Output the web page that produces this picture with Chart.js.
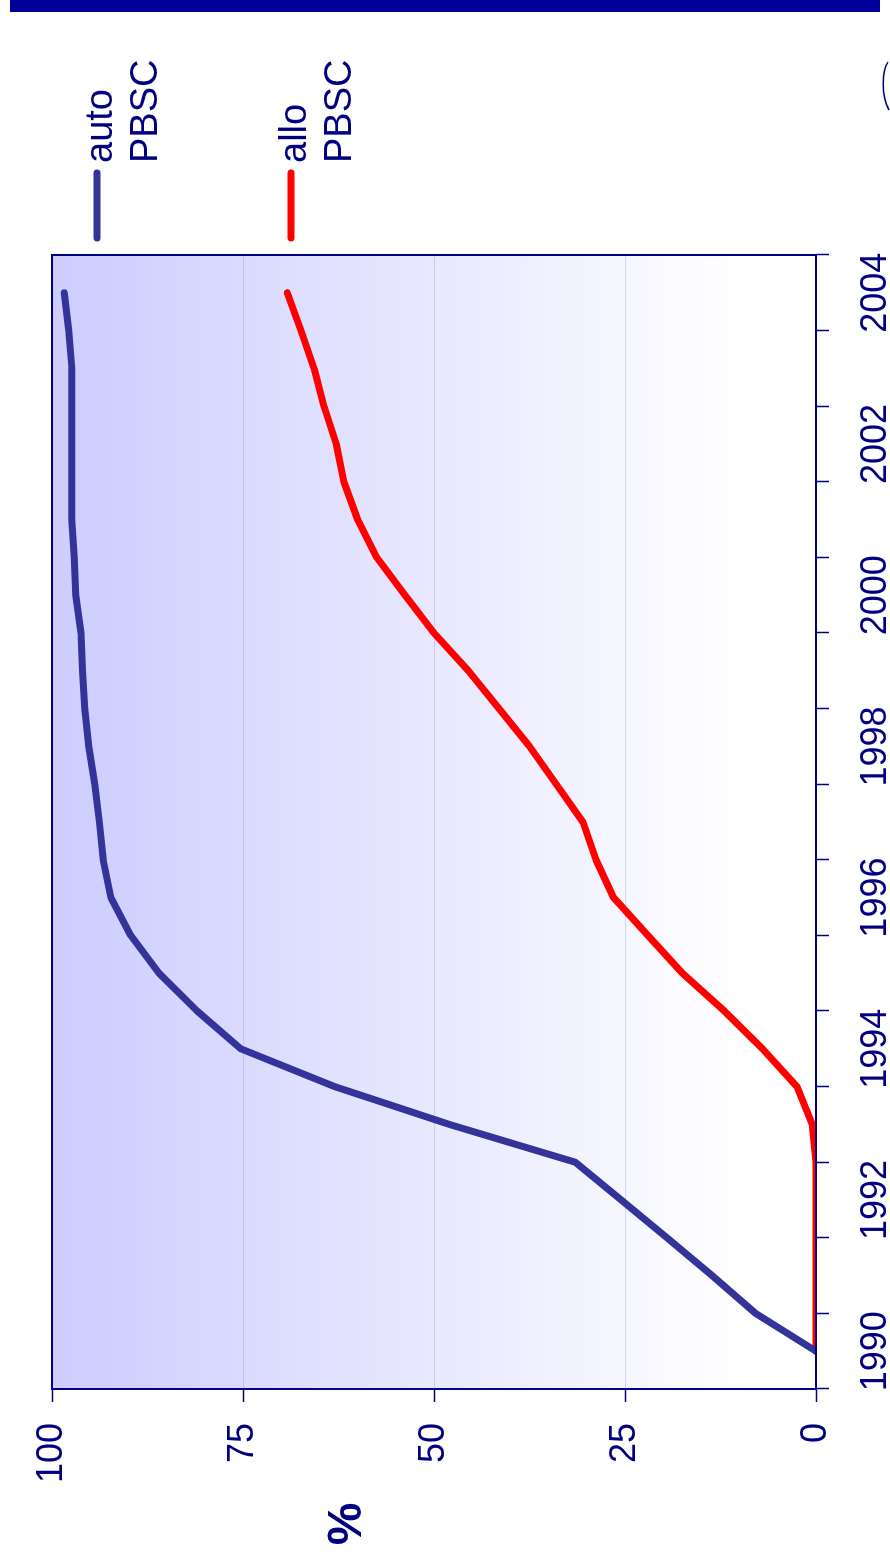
<!DOCTYPE html>
<html>
<head>
<meta charset="utf-8">
<title>auto / allo PBSC</title>
<script src="https://cdn.jsdelivr.net/npm/chart.js@4.4.1/dist/chart.umd.min.js"></script>
<style>
  html, body { margin: 0; padding: 0; background: #fff; }
  body { width: 890px; height: 1554px; overflow: hidden; position: relative; }
  /* the chart is drawn landscape and turned a quarter to the left */
  #wrap { position: absolute; left: 0; top: 0; width: 1554px; height: 890px;
          transform-origin: 0 0; transform: translateY(1554px) rotate(-90deg); }
</style>
</head>
<body>
<div id="wrap"><canvas id="pbscChart" width="1554" height="890"></canvas></div>
<script>
// Dane
const yearLabels = ['1990', '1991', '1992', '1993', '1994', '1995', '1996', '1997',
                    '1998', '1999', '2000', '2001', '2002', '2003', '2004'];
const years = [1990, 1990.5, 1991, 1991.5, 1992, 1992.5, 1993, 1993.5, 1994, 1994.5,
               1995, 1995.5, 1996, 1996.5, 1997, 1997.5, 1998, 1998.5, 1999, 1999.5,
               2000, 2000.5, 2001, 2001.5, 2002, 2002.5, 2003, 2003.5, 2004];
const autoPBSC = [0, 7.9, 13.6, 19.5, 25.5, 31.5, 48, 63, 75.3, 81,
                  86, 89.7, 92.3, 93.3, 93.8, 94.4, 95.2, 95.7, 96, 96.2,
                  96.9, 97.1, 97.4, 97.4, 97.4, 97.4, 97.4, 97.8, 98.4];
const alloPBSC = [0, 0, 0, 0, 0, 0, 0.5, 2.5, 7, 12,
                  17.5, 22, 26.5, 28.8, 30.5, 34, 37.5, 41.5, 45.5, 50,
                  53.8, 57.5, 60, 61.8, 62.8, 64.4, 65.7, 67.4, 69.2];
const pctTicks = [0, 25, 50, 75, 100];
const seriesNames = [['auto', 'PBSC'], ['allo', 'PBSC']];
const seriesColors = ['#333399', '#FF0000'];

const NAVY = '#000080';
const FONT = '"Liberation Sans", Arial, Helvetica, sans-serif';

// tło obszaru wykresu – gradient
const plotBackground = {
  id: 'plotBackground',
  beforeDraw(chart) {
    const { ctx, chartArea: a } = chart;
    const g = ctx.createLinearGradient(0, a.top, 0, a.bottom);
    g.addColorStop(0, '#CCCCFF');
    g.addColorStop(0.9, '#FFFFFF');
    ctx.save();
    ctx.fillStyle = g;
    ctx.fillRect(a.left, a.top, a.right - a.left, a.bottom - a.top);
    ctx.restore();
  }
};

// ramka wokół wykresu
const frame = {
  id: 'frame',
  afterDatasetsDraw(chart) {
    const { ctx, chartArea: a } = chart;
    ctx.save();
    ctx.strokeStyle = NAVY;
    ctx.lineWidth = 2;
    ctx.strokeRect(a.left, a.top, a.right - a.left, a.bottom - a.top);
    ctx.restore();
  }
};

// legenda, tytuł osi, pasek u góry
const extras = {
  id: 'extras',
  afterDraw(chart) {
    const { ctx, chartArea: a, width: W } = chart;
    ctx.save();

    // pasek
    ctx.fillStyle = '#000099';
    ctx.fillRect(W - 12, 10, 12, 870);

    // kawałek logo
    ctx.strokeStyle = NAVY;
    ctx.lineWidth = 1.5;
    ctx.beginPath();
    ctx.moveTo(1492, 888);
    ctx.bezierCurveTo(1484, 882, 1458, 881, 1444, 889);
    ctx.stroke();

    // legenda
    const rowsV = [97, 291];
    chart.data.datasets.forEach((ds, i) => {
      const v = rowsV[i];
      ctx.strokeStyle = ds.borderColor;
      ctx.lineWidth = 7;
      ctx.lineCap = 'round';
      ctx.beginPath();
      ctx.moveTo(a.right + 17, v);
      ctx.lineTo(a.right + 82, v);
      ctx.stroke();

      ctx.fillStyle = NAVY;
      ctx.font = `38px ${FONT}`;
      ctx.textAlign = 'left';
      ctx.textBaseline = 'alphabetic';
      seriesNames[i].forEach((line, k) => {
        ctx.fillText(line, a.right + 92, v + 15 + k * 45);
      });
    });

    // tytuł osi %
    ctx.fillStyle = NAVY;
    ctx.font = `bold 48px ${FONT}`;
    ctx.textAlign = 'center';
    ctx.textBaseline = 'middle';
    ctx.fillText('%', 30, 348);

    ctx.restore();
  }
};

const ctx = document.getElementById('pbscChart').getContext('2d');
new Chart(ctx, {
  type: 'line',
  data: {
    labels: yearLabels,
    datasets: [
      {
        label: seriesNames[0].join(' '),
        data: years.map((x, i) => ({ x, y: autoPBSC[i] })),
        borderColor: seriesColors[0],
        xAxisID: 'xData'
      },
      {
        label: seriesNames[1].join(' '),
        data: years.map((x, i) => ({ x, y: alloPBSC[i] })),
        borderColor: seriesColors[1],
        xAxisID: 'xData'
      }
    ]
  },
  options: {
    responsive: false,
    animation: false,
    layout: { padding: { top: 52, right: 255, left: 0, bottom: 0 } },
    elements: {
      line: { borderWidth: 7, tension: 0, fill: false, borderCapStyle: 'round', borderJoinStyle: 'round' },
      point: { radius: 0 }
    },
    plugins: {
      legend: { display: false },
      tooltip: { enabled: false }
    },
    scales: {
      x: {
        type: 'category',
        position: 'bottom',
        offset: true,
        grid: { offset: true, drawOnChartArea: false, tickLength: 13, tickColor: NAVY, tickWidth: 1.5 },
        border: { display: false },
        ticks: {
          autoSkip: false, maxRotation: 0, minRotation: 0, padding: 25,
          color: NAVY, font: { family: FONT, size: 36 },
          callback: function (val, idx) { return idx % 2 === 0 ? this.getLabelForValue(val) : ''; }
        },
        afterFit: s => { s.height = 74; }
      },
      xData: { type: 'linear', position: 'bottom', display: false, min: 1989.5, max: 2004.5 },
      y: {
        min: 0, max: 100,
        afterBuildTicks: s => { s.ticks = pctTicks.map(v => ({ value: v })); },
        grid: { color: 'rgba(150,150,225,0.35)', lineWidth: 1, tickLength: 13, tickColor: NAVY, tickWidth: 1.5 },
        border: { display: false },
        ticks: { padding: 21, color: NAVY, font: { family: FONT, size: 36 } },
        afterFit: s => { s.width = 165; }
      }
    }
  },
  plugins: [plotBackground, frame, extras]
});
</script>
</body>
</html>
